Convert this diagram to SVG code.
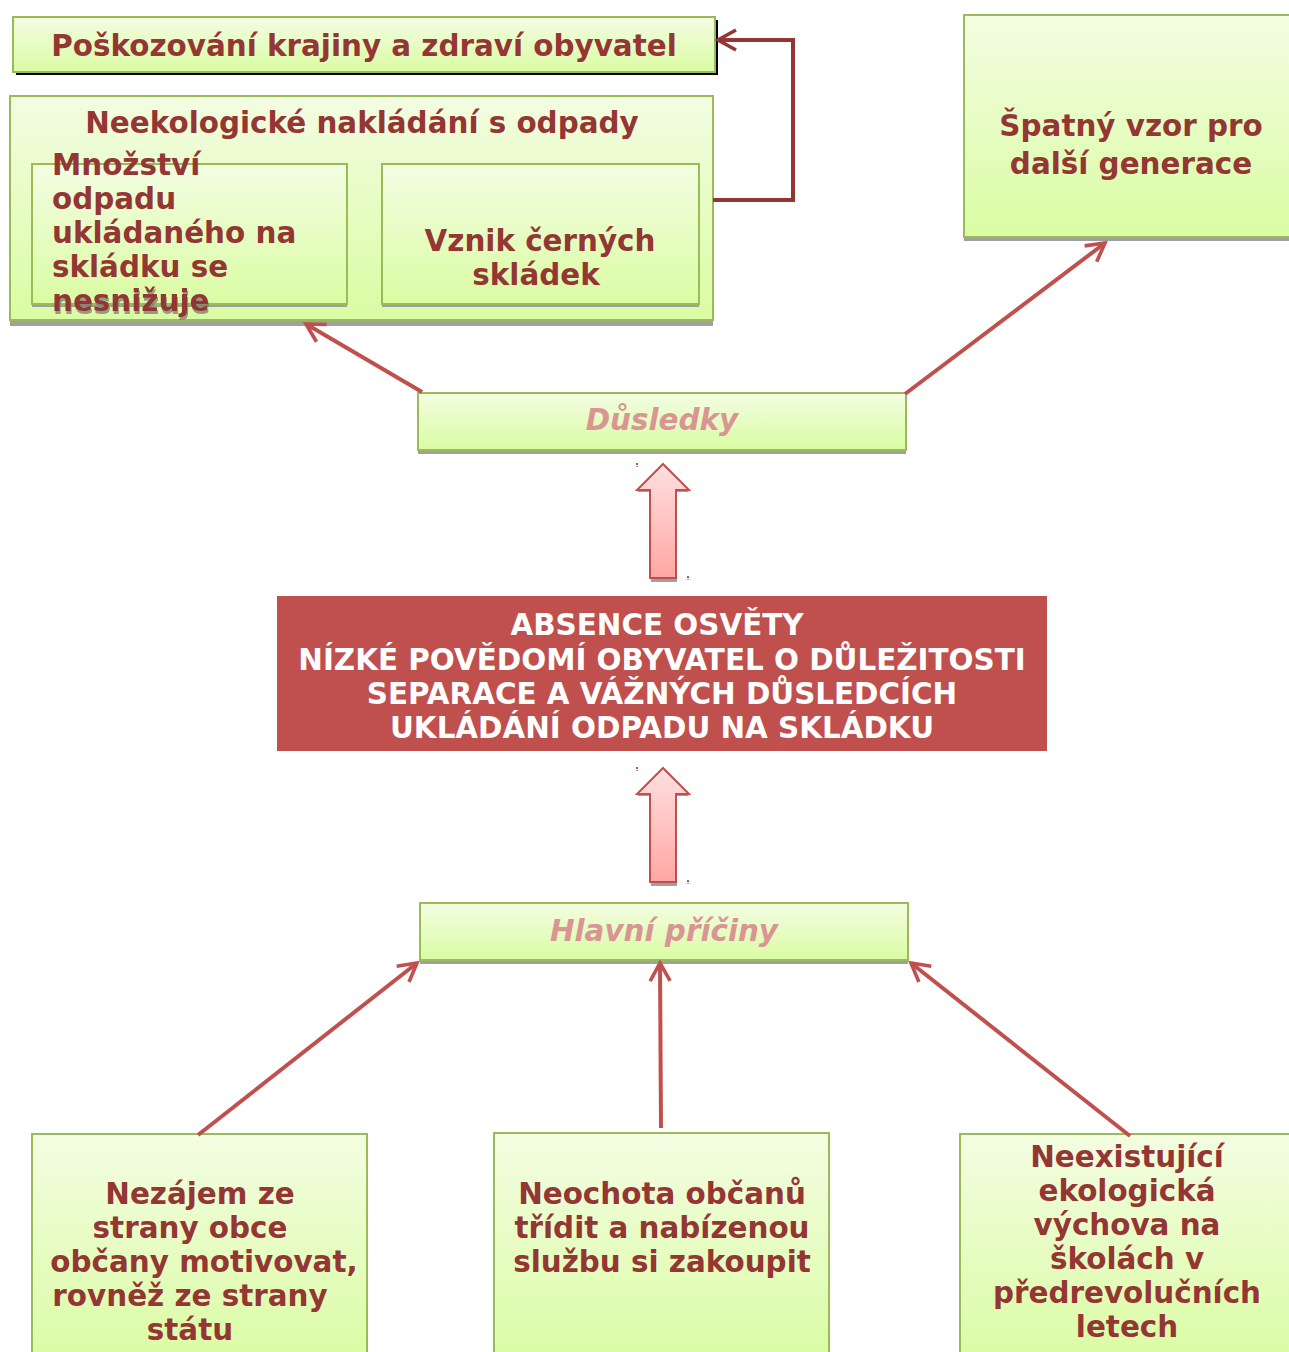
<svg xmlns="http://www.w3.org/2000/svg" width="1289" height="1352" viewBox="0 0 1289 1352">
<defs>
<linearGradient id="g" x1="0" y1="0" x2="0" y2="1"><stop offset="0" stop-color="#f3fde2"/><stop offset="1" stop-color="#dafca3"/></linearGradient>
<linearGradient id="pk" x1="0" y1="0" x2="0" y2="1"><stop offset="0" stop-color="#ffe0e0"/><stop offset="1" stop-color="#ffa6a4"/></linearGradient>
<filter id="ts" x="-5%" y="-20%" width="110%" height="160%"><feDropShadow dx="1" dy="3" stdDeviation="0.6" flood-color="#7d7d70" flood-opacity="0.75"/></filter>
<marker id="oa2" viewBox="0 0 12 12" refX="10" refY="6" markerWidth="6" markerHeight="6" markerUnits="strokeWidth" orient="auto"><path d="M1,1 L10,6 L1,11" fill="none" stroke="#943634" stroke-width="1.8"/></marker>
<marker id="oa3" viewBox="0 0 12 12" refX="10" refY="6" markerWidth="6" markerHeight="6" markerUnits="strokeWidth" orient="auto"><path d="M1,1 L10,6 L1,11" fill="none" stroke="#c0504d" stroke-width="1.8"/></marker>
</defs>
<style>
.box{fill:url(#g);stroke:#9bbb59;stroke-width:2}
.sh{fill:#a0a0a0}
.t{font-family:"DejaVu Sans",sans-serif;font-weight:bold;font-size:29.4px;fill:#943634}
.c{text-anchor:middle}
.it{font-family:"DejaVu Sans",sans-serif;font-weight:bold;font-style:italic;font-size:29.4px;fill:#d99594;text-anchor:middle}
.w{font-family:"DejaVu Sans",sans-serif;font-weight:bold;font-size:29.4px;fill:#ffffff;text-anchor:middle}
.cn{fill:none;stroke:#c0504d;stroke-width:4;marker-end:url(#oa3)}
.ba{fill:url(#pk);stroke:#c0504d;stroke-width:2}
</style>
<g id="n-poskozovani">
<rect x="16" y="20" width="702" height="55" fill="#000"/>
<rect class="box" x="13" y="17" width="702" height="55"/>
<text class="t c" x="364" y="56">Poškozování krajiny a zdraví obyvatel</text>
</g>
<g id="n-neekologicke">
<rect class="sh" x="10" y="99" width="703" height="227"/>
<rect class="box" x="10" y="96" width="703" height="224"/>
<text class="t c" x="362" y="133">Neekologické nakládání s odpady</text>
</g>
<g id="n-mnozstvi">
<rect class="sh" x="32" y="167" width="315" height="140"/>
<rect class="box" x="32" y="164" width="315" height="140"/>
<text class="t" x="52" y="175">Množství</text>
<text class="t" x="52" y="209">odpadu</text>
<text class="t" x="52" y="243">ukládaného na</text>
<text class="t" x="52" y="277">skládku se</text>
<text class="t" x="52" y="311" filter="url(#ts)">nesnižuje</text>
</g>
<g id="n-vznik">
<rect class="sh" x="382" y="167" width="317" height="140"/>
<rect class="box" x="382" y="164" width="317" height="140"/>
<text class="t c" x="540" y="251">Vznik černých</text>
<text class="t c" x="536" y="285">skládek</text>
</g>
<g id="n-spatny">
<rect class="sh" x="964" y="18" width="330" height="223"/>
<rect class="box" x="964" y="15" width="330" height="222"/>
<text class="t c" x="1131" y="136">Špatný vzor pro</text>
<text class="t c" x="1131" y="174">další generace</text>
</g>
<g id="n-dusledky">
<rect class="sh" x="418" y="396" width="488" height="58"/>
<rect class="box" x="418" y="393" width="488" height="57"/>
<text class="it" x="662" y="430">Důsledky</text>
</g>
<g id="n-absence">
<rect x="277" y="596" width="770" height="155" fill="#c0504d"/>
<text class="w" x="657" y="635">ABSENCE OSVĚTY</text>
<text class="w" x="662" y="670">NÍZKÉ POVĚDOMÍ OBYVATEL O DŮLEŽITOSTI</text>
<text class="w" x="662" y="704">SEPARACE A VÁŽNÝCH DŮSLEDCÍCH</text>
<text class="w" x="662" y="738">UKLÁDÁNÍ ODPADU NA SKLÁDKU</text>
</g>
<g id="n-hlavni">
<rect class="sh" x="420" y="906" width="488" height="58"/>
<rect class="box" x="420" y="903" width="488" height="57"/>
<text class="it" x="664" y="941">Hlavní příčiny</text>
</g>
<g id="n-nezajem">
<rect class="box" x="32" y="1134" width="335" height="230"/>
<text class="t c" x="200" y="1204">Nezájem ze</text>
<text class="t c" x="190" y="1238">strany obce</text>
<text class="t c" x="204" y="1272">občany motivovat,</text>
<text class="t c" x="190" y="1306">rovněž ze strany</text>
<text class="t c" x="190" y="1340">státu</text>
</g>
<g id="n-neochota">
<rect class="box" x="494" y="1133" width="335" height="230"/>
<text class="t c" x="662" y="1204">Neochota občanů</text>
<text class="t c" x="662" y="1238">třídit a nabízenou</text>
<text class="t c" x="662" y="1272">službu si zakoupit</text>
</g>
<g id="n-neexistujici">
<rect class="box" x="960" y="1134" width="335" height="230"/>
<text class="t c" x="1127" y="1167">Neexistující</text>
<text class="t c" x="1127" y="1201">ekologická</text>
<text class="t c" x="1127" y="1235">výchova na</text>
<text class="t c" x="1127" y="1269">školách v</text>
<text class="t c" x="1127" y="1303">předrevolučních</text>
<text class="t c" x="1127" y="1337">letech</text>
</g>
<g id="block-arrows">
<path fill="#a0a0a0" d="M651,492 L637,492 L663,467 L689,492 L677,492 L677,582 L651,582 Z"/>
<path class="ba" d="M650,490 L637,490 L663,464 L689,490 L676,490 L676,578 L650,578 Z"/>
<path fill="#a0a0a0" d="M651,796 L637,796 L663,771 L689,796 L677,796 L677,886 L651,886 Z"/>
<path class="ba" d="M650,794 L637,794 L663,768 L689,794 L676,794 L676,882 L650,882 Z"/>
<rect x="636" y="463" width="2" height="2" fill="#c0504d"/><rect x="636" y="466" width="2" height="1" fill="#a0a0a0"/>
<rect x="687" y="576" width="2" height="2" fill="#c0504d"/><rect x="687" y="579" width="2" height="1" fill="#a0a0a0"/>
<rect x="636" y="767" width="2" height="2" fill="#c0504d"/><rect x="636" y="770" width="2" height="1" fill="#a0a0a0"/>
<rect x="687" y="880" width="2" height="2" fill="#c0504d"/><rect x="687" y="883" width="2" height="1" fill="#a0a0a0"/>
</g>
<g id="connectors">
<polyline points="713,200 793,200 793,40 718,40" fill="none" stroke="#943634" stroke-width="4" marker-end="url(#oa2)"/>
<line class="cn" x1="422" y1="392" x2="306" y2="324"/>
<line class="cn" x1="905" y1="394" x2="1105" y2="243"/>
<line class="cn" x1="198" y1="1135" x2="417" y2="963"/>
<line class="cn" x1="661" y1="1128" x2="660" y2="963"/>
<line class="cn" x1="1130" y1="1136" x2="911" y2="963"/>
</g>
</svg>
